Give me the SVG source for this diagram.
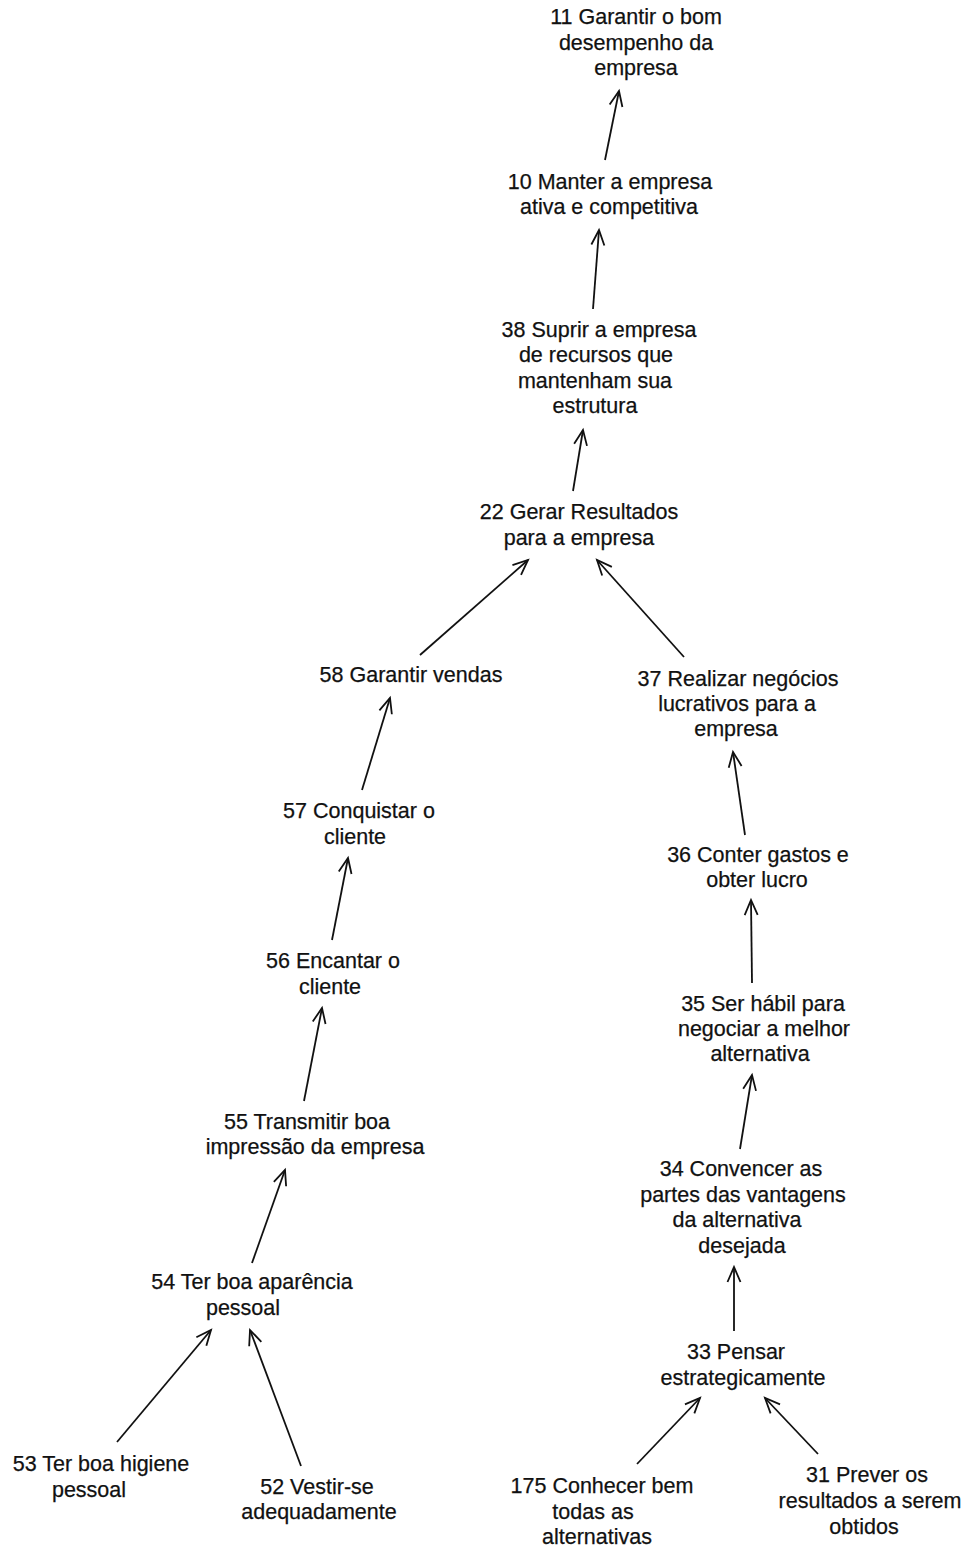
<svg xmlns="http://www.w3.org/2000/svg" width="970" height="1551" viewBox="0 0 970 1551">
  <style>
    .lbl { font-family: "Liberation Sans", Arial, Helvetica, sans-serif; font-size: 21.5px; fill: #111; stroke: #111; stroke-width: 0.25; text-anchor: middle; }
    .edge { stroke: #111; stroke-width: 1.8; fill: none; marker-end: url(#open); }
  </style>
  <defs>
    <!-- open V arrowhead used on every connector -->
    <marker id="open" markerUnits="userSpaceOnUse" markerWidth="30" markerHeight="30" refX="0" refY="0" orient="auto" overflow="visible">
      <path d="M-15,-6.5 L0,0 L-15,6.5" fill="none" stroke="#111" stroke-width="1.8" stroke-linejoin="miter"/>
    </marker>
  </defs>
  <rect width="970" height="1551" fill="#ffffff"/>

  <g id="connectors">
    <line class="edge" x1="605" y1="160" x2="619" y2="91"/>
    <line class="edge" x1="593" y1="309" x2="599" y2="230"/>
    <line class="edge" x1="573" y1="491" x2="583" y2="430"/>
    <line class="edge" x1="420" y1="655" x2="528" y2="560"/>
    <line class="edge" x1="684" y1="657" x2="597" y2="560"/>
    <line class="edge" x1="362" y1="790" x2="390" y2="698"/>
    <line class="edge" x1="745" y1="835" x2="733" y2="752"/>
    <line class="edge" x1="332" y1="940" x2="348" y2="858"/>
    <line class="edge" x1="752" y1="983" x2="751" y2="900"/>
    <line class="edge" x1="304" y1="1101" x2="322" y2="1008"/>
    <line class="edge" x1="740" y1="1149" x2="752" y2="1075"/>
    <line class="edge" x1="252" y1="1263" x2="285" y2="1170"/>
    <line class="edge" x1="734" y1="1331" x2="734" y2="1267"/>
    <line class="edge" x1="117" y1="1442" x2="211" y2="1330"/>
    <line class="edge" x1="301" y1="1466" x2="250" y2="1330"/>
    <line class="edge" x1="637" y1="1464" x2="700" y2="1398"/>
    <line class="edge" x1="818" y1="1454" x2="765" y2="1398"/>
  </g>

  <g id="n11"><text class="lbl" x="636" y="24">11 Garantir o bom</text><text class="lbl" x="636" y="50">desempenho da</text><text class="lbl" x="636" y="75">empresa</text></g>
  <g id="n10"><text class="lbl" x="610" y="189">10 Manter a empresa</text><text class="lbl" x="609" y="214">ativa e competitiva</text></g>
  <g id="n38"><text class="lbl" x="599" y="337">38 Suprir a empresa</text><text class="lbl" x="596" y="362">de recursos que</text><text class="lbl" x="595" y="388">mantenham sua</text><text class="lbl" x="595" y="413">estrutura</text></g>
  <g id="n22"><text class="lbl" x="579" y="519">22 Gerar Resultados</text><text class="lbl" x="579" y="545">para a empresa</text></g>
  <g id="n58"><text class="lbl" x="411" y="682">58 Garantir vendas</text></g>
  <g id="n37"><text class="lbl" x="738" y="686">37 Realizar negócios</text><text class="lbl" x="737" y="711">lucrativos para a</text><text class="lbl" x="736" y="736">empresa</text></g>
  <g id="n57"><text class="lbl" x="359" y="818">57 Conquistar o</text><text class="lbl" x="355" y="844">cliente</text></g>
  <g id="n36"><text class="lbl" x="758" y="862">36 Conter gastos e</text><text class="lbl" x="757" y="887">obter lucro</text></g>
  <g id="n56"><text class="lbl" x="333" y="968">56 Encantar o</text><text class="lbl" x="330" y="994">cliente</text></g>
  <g id="n35"><text class="lbl" x="763" y="1011">35 Ser hábil para</text><text class="lbl" x="764" y="1036">negociar a melhor</text><text class="lbl" x="760" y="1061">alternativa</text></g>
  <g id="n55"><text class="lbl" x="307" y="1129">55 Transmitir boa</text><text class="lbl" x="315" y="1154">impressão da empresa</text></g>
  <g id="n34"><text class="lbl" x="741" y="1176">34 Convencer as</text><text class="lbl" x="743" y="1202">partes das vantagens</text><text class="lbl" x="737" y="1227">da alternativa</text><text class="lbl" x="742" y="1253">desejada</text></g>
  <g id="n54"><text class="lbl" x="252" y="1289">54 Ter boa aparência</text><text class="lbl" x="243" y="1315">pessoal</text></g>
  <g id="n33"><text class="lbl" x="736" y="1359">33 Pensar</text><text class="lbl" x="743" y="1385">estrategicamente</text></g>
  <g id="n53"><text class="lbl" x="101" y="1471">53 Ter boa higiene</text><text class="lbl" x="89" y="1497">pessoal</text></g>
  <g id="n52"><text class="lbl" x="317" y="1494">52 Vestir-se</text><text class="lbl" x="319" y="1519">adequadamente</text></g>
  <g id="n175"><text class="lbl" x="602" y="1493">175 Conhecer bem</text><text class="lbl" x="593" y="1519">todas as</text><text class="lbl" x="597" y="1544">alternativas</text></g>
  <g id="n31"><text class="lbl" x="867" y="1482">31 Prever os</text><text class="lbl" x="870" y="1508">resultados a serem</text><text class="lbl" x="864" y="1534">obtidos</text></g>
</svg>
